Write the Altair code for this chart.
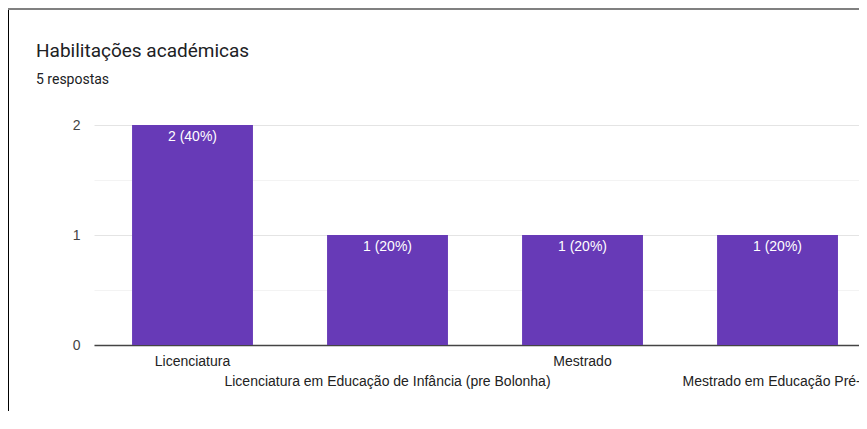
import altair as alt
import pandas as pd

categories = [
    "Licenciatura",
    "Licenciatura em Educação de Infância (pre Bolonha)",
    "Mestrado",
    "Mestrado em Educação Pré-...",
]
counts = [2, 1, 1, 1]
y_ticks = [0, 0.5, 1, 1.5, 2]
title_text = "Habilitações académicas"
subtitle_text = "5 respostas"

total = sum(counts)
df = pd.DataFrame({
    "cat": categories,
    "n": counts,
    "label": [f"{c} ({round(100 * c / total)}%)" for c in counts],
})

odd_labels = [categories[i] for i in range(1, len(categories), 2)]
odd_test = " || ".join([f"datum.value === '{c}'" for c in odd_labels])

x_enc = alt.X(
    "cat:N",
    sort=None,
    title=None,
    scale=alt.Scale(paddingInner=0.38, paddingOuter=0.1515, align=0.644),
    axis=alt.Axis(
        labelAngle=0,
        labelLimit=0,
        labelOverlap=False,
        ticks=False,
        domainColor="#444444",
        domainWidth=1.5,
        labelFont="Liberation Sans",
        labelFontSize=14,
        labelColor="#222222",
        labelBaseline="top",
        labelPadding={"condition": {"test": odd_test, "value": 29}, "value": 9},
        grid=False,
    ),
)
y_enc = alt.Y(
    "n:Q",
    title=None,
    scale=alt.Scale(domain=[0, 2], nice=False),
    axis=alt.Axis(
        values=y_ticks,
        labelExpr="datum.value % 1 === 0 ? format(datum.value, 'd') : ''",
        domain=False,
        ticks=False,
        labelPadding=14,
        labelFont="Liberation Sans",
        labelFontSize=14,
        labelColor="#444444",
        gridColor={"condition": {"test": "datum.value % 1 === 0", "value": "#e4e4e4"},
                   "value": "#f3f3f3"},
        gridWidth=1,
    ),
)

base = alt.Chart(df)
bars = base.mark_bar(color="#673AB7").encode(x=x_enc, y=y_enc)
labels = base.mark_text(
    color="white", baseline="alphabetic", dy=16,
    font="Liberation Sans", fontSize=14,
).encode(x=alt.X("cat:N", sort=None), y="n:Q", text="label:N")

frame_data = alt.Data(values=[{"k": 0}])
left_line = alt.Chart(frame_data).mark_rule(color="#000000", strokeWidth=1).encode(
    x=alt.value(-85.5), y=alt.value(-117), y2=alt.value(300)
)
top_line = alt.Chart(frame_data).mark_rule(color="#808080", strokeWidth=2).encode(
    x=alt.value(-86), x2=alt.value(765), y=alt.value(-116)
)
title = alt.Chart(frame_data).mark_text(
    text=title_text, align="left", baseline="alphabetic",
    font="Roboto", fontSize=19, color="#202124",
).encode(x=alt.value(-58), y=alt.value(-68))
subtitle = alt.Chart(frame_data).mark_text(
    text=subtitle_text, align="left", baseline="alphabetic",
    font="Roboto", fontSize=14, color="#202124",
).encode(x=alt.value(-58), y=alt.value(-41))

chart = alt.layer(bars, labels, left_line, top_line, title, subtitle).properties(
    width=765,
    height=220,
    padding={"left": 86, "top": 117, "right": 0, "bottom": 66},
    autosize="none",
    background="white",
).configure_view(stroke=None)

chart.save("out.html", embed_options={"renderer": "svg", "actions": False})
